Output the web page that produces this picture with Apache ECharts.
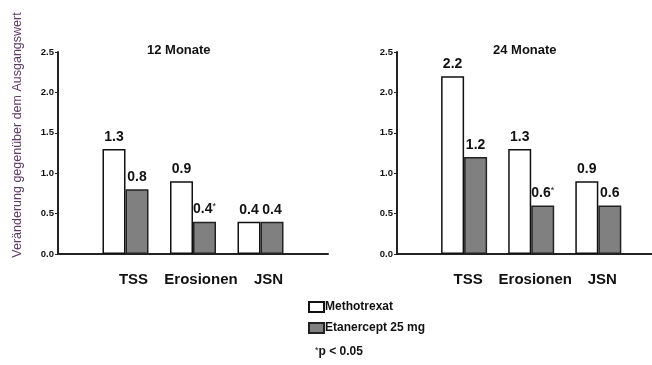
<!DOCTYPE html>
<html><head><meta charset="utf-8">
<script src="https://cdn.jsdelivr.net/npm/echarts@6/dist/echarts.min.js"></script>
<style>html,body{margin:0;padding:0;background:#fff}#c{width:652px;height:365px}</style>
</head><body><div id="c"></div>
<script>
const categories = ['TSS', 'Erosionen', 'JSN'];
const mtx12 = [1.3, 0.9, 0.4];
const eta12 = [0.8, 0.4, 0.4];
const mtx24 = [2.2, 1.3, 0.9];
const eta24 = [1.2, 0.6, 0.6];
const eta12Star = [false, true, false];
const eta24Star = [false, true, false];
const yMin = 0, yMax = 2.5, yStep = 0.5;
const titles = ['12 Monate', '24 Monate'];
const seriesNames = ['Methotrexat', 'Etanercept 25 mg'];

const toPts = a => a.map((v, i) => [i + 1, v]);
const F = 'Liberation Sans, Arial, sans-serif';

function lbl(stars) {
  return {
    show: true, position: 'top', distance: 5,
    formatter: p => '{v|' + Number(p.value[1]).toFixed(1) + '}' + (stars && stars[p.dataIndex] ? '{s|*}' : ''),
    rich: {
      v: { fontFamily: F, fontWeight: 'bold', fontSize: 14, color: '#111' },
      s: { fontFamily: F, fontSize: 9, color: '#111', verticalAlign: 'top', padding: [0, 0, 6, 0] }
    }
  };
}
const whiteStyle = { color: '#fff', borderColor: '#111', borderWidth: 1.5 };
const grayStyle = { color: '#808080', borderColor: '#222', borderWidth: 1.5 };

function xAx(gi, max, shift) {
  return {
    type: 'value', gridIndex: gi, min: 0, max: max, interval: 1,
    axisLine: { show: true, onZero: false, lineStyle: { color: '#222', width: 2 } },
    axisTick: { show: false },
    splitLine: { show: false },
    axisLabel: { showMinLabel: false, showMaxLabel: false, margin: 18, fontFamily: F, fontWeight: 'bold', fontSize: 15, color: '#111', padding: [0, 0, 0, shift],
      formatter: v => categories[v - 1] || '' }
  };
}
function yAx(gi) {
  return {
    type: 'value', gridIndex: gi, min: yMin, max: yMax, interval: yStep,
    axisLine: { show: true, lineStyle: { color: '#222', width: 2 } },
    axisTick: { show: true, length: 3, lineStyle: { color: '#222' } },
    splitLine: { show: false },
    axisLabel: { margin: 4, fontFamily: F, fontWeight: 'bold', fontSize: 9.5, color: '#111', formatter: v => v.toFixed(1) }
  };
}

const chart = echarts.init(document.getElementById('c'));
chart.setOption({
  animation: false,
  backgroundColor: '#fff',
  grid: [
    { left: 58, top: 52, width: 270, height: 202 },
    { left: 397, top: 52, width: 255, height: 202 }
  ],
  title: [
    { text: titles[0], left: 142, top: 39, textStyle: { fontFamily: F, fontWeight: 'bold', fontSize: 13, color: '#111' } },
    { text: titles[1], left: 488, top: 39, textStyle: { fontFamily: F, fontWeight: 'bold', fontSize: 13, color: '#111' } }
  ],
  legend: {
    orient: 'vertical', left: 303, top: 296, itemWidth: 15, itemHeight: 10, itemGap: 9,
    icon: 'rect', data: seriesNames,
    textStyle: { fontFamily: F, fontWeight: 'bold', fontSize: 12, color: '#111', padding: [0, 0, 0, -4] }
  },
  xAxis: [xAx(0, 4, 16), xAx(1, 3.8, 8)],
  yAxis: [yAx(0), yAx(1)],
  series: [
    { name: seriesNames[0], type: 'bar', xAxisIndex: 0, yAxisIndex: 0, data: toPts(mtx12), barWidth: 23, barGap: '0%', itemStyle: whiteStyle, label: lbl(null) },
    { name: seriesNames[1], type: 'bar', xAxisIndex: 0, yAxisIndex: 0, data: toPts(eta12), barWidth: 23, barGap: '0%', itemStyle: grayStyle, label: lbl(eta12Star) },
    { name: seriesNames[0], type: 'bar', xAxisIndex: 1, yAxisIndex: 1, data: toPts(mtx24), barWidth: 23, barGap: '0%', itemStyle: whiteStyle, label: lbl(null) },
    { name: seriesNames[1], type: 'bar', xAxisIndex: 1, yAxisIndex: 1, data: toPts(eta24), barWidth: 23, barGap: '0%', itemStyle: grayStyle, label: lbl(eta24Star) }
  ],
  graphic: [
    { type: 'text', x: 18, y: 135, rotation: Math.PI / 2,
      style: { text: 'Veränderung gegenüber dem Ausgangswert', font: '12.5px ' + F, fill: '#5e3a66', align: 'center', verticalAlign: 'middle' } },
    { type: 'text', x: 315, y: 352,
      style: { text: '{s|*}{t|p < 0.05}', rich: { s: { fontFamily: F, fontSize: 9, fill: '#111', verticalAlign: 'top' }, t: { fontFamily: F, fontWeight: 'bold', fontSize: 12, fill: '#111' } }, verticalAlign: 'middle' } }
  ]
});
</script></body></html>
